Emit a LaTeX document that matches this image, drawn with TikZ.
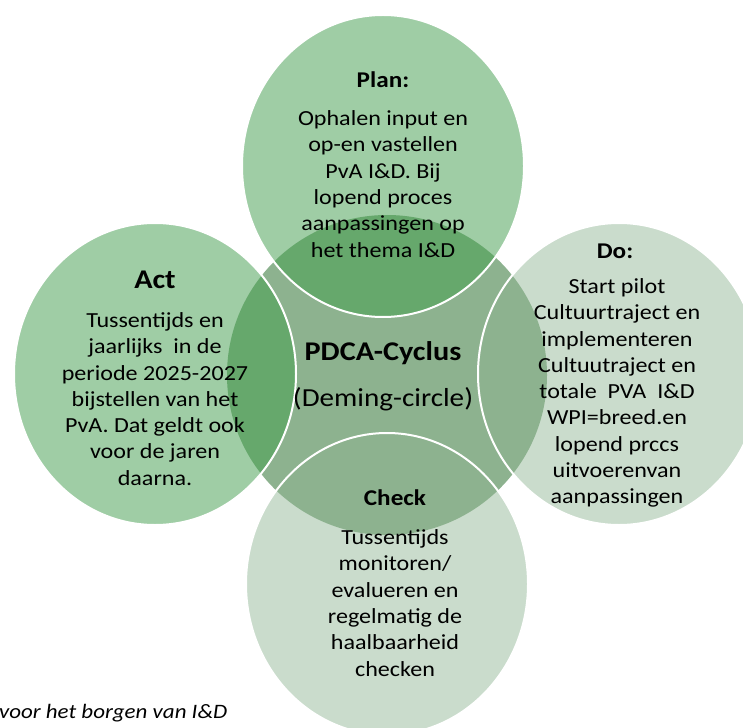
\documentclass[tikz,border=0pt]{standalone}
\usepackage{fontspec}
\setmainfont{Carlito}[FakeStretch=1.12]
\usetikzlibrary{positioning}

\definecolor{planfill}{HTML}{9FCDA5}
\definecolor{dofill}{HTML}{CADCCC}
\definecolor{corefill}{HTML}{8DB28F}
\definecolor{deepfill}{HTML}{66A86C}

\begin{document}
\begin{tikzpicture}[
  x=1pt, y=-1pt,
  body/.style={align=center, inner sep=0pt, font=\fontsize{21.5}{26.3}\selectfont},
  head/.style={inner sep=0pt, font=\fontsize{22.5}{26}\selectfont\bfseries},
  bighead/.style={inner sep=0pt, font=\fontsize{27}{32}\selectfont\bfseries},
  ring/.style={white, line width=2pt}
]
  %------------------------------------------------------------
  %  PARAMETERS
  %------------------------------------------------------------
  \def\rx{141}   % horizontal radius of a phase circle
  \def\ry{151}   % vertical radius of a phase circle
  \def\rc{160}   % radius of the core circle

  \useasboundingbox (0,0) rectangle (743,727);
  \clip (0,0) rectangle (743,727);

  %------------------------------------------------------------
  %  CENTRES
  %------------------------------------------------------------
  \coordinate (core)  at (387,375);
  \coordinate (plan)  at (383,166);
  \coordinate (do)    at (619,374);
  \coordinate (check) at (387,584);
  \coordinate (act)   at (155,374);

  %------------------------------------------------------------
  %  CORE + PHASE CIRCLES
  %------------------------------------------------------------
  \fill[corefill] (core) circle[radius=\rc];

  \foreach \c/\f/\o in {plan/planfill/deepfill, do/dofill/corefill,
                        check/dofill/corefill, act/planfill/deepfill} {
    \fill[\f] (\c) ellipse[x radius=\rx, y radius=\ry];
    \begin{scope}
      \clip (\c) ellipse[x radius=\rx, y radius=\ry];
      \fill[\o] (core) circle[radius=\rc];
    \end{scope}
    \draw[ring] (\c) ellipse[x radius=\rx, y radius=\ry];
  }

  %------------------------------------------------------------
  %  PLAN
  %------------------------------------------------------------
  \node[head] (planhead) at (383,80) {Plan:};
  \node[body] (plantext) at (383,184)
    {Ophalen input en\\op-en vastellen\\PvA I\&D. Bij\\lopend proces\\aanpassingen op\\het thema I\&D};

  %------------------------------------------------------------
  %  DO
  %------------------------------------------------------------
  \node[head] (dohead) at (615,251) {Do:};
  \node[body] (dotext) at (617,393)
    {Start pilot\\Cultuurtraject en\\implementeren\\Cultuutraject en\\totale\ \ PVA\ \ I\&D\\WPI=breed.en\\lopend prccs\\uitvoerenvan\\aanpassingen};

  %------------------------------------------------------------
  %  CHECK
  %------------------------------------------------------------
  \node[head] (checkhead) at (395,498) {Check};
  \node[body] (checktext) at (395,603)
    {Tussentijds\\monitoren/\\evalueren en\\regelmatig de\\haalbaarheid\\checken};

  %------------------------------------------------------------
  %  ACT
  %------------------------------------------------------------
  \node[bighead] (acthead) at (155,280) {Act};
  \node[body] (acttext) at (155,399)
    {Tussentijds en\\jaarlijks\ \ in de\\periode 2025-2027\\bijstellen van het\\PvA. Dat geldt ook\\voor de jaren\\daarna.};

  %------------------------------------------------------------
  %  CORE TITLE
  %------------------------------------------------------------
  \node[bighead] (corehead) at (383,353) {PDCA-Cyclus};
  \node[inner sep=0pt, font=\fontsize{26}{32}\selectfont, below=22pt of corehead] (coresub) {(Deming-circle)};

  % caption, runs into the left edge
  \node[anchor=west, inner sep=0pt, font=\fontsize{20.5}{24}\selectfont\itshape] (caption) at (-1,713)
    {voor het borgen van I\&D};
\end{tikzpicture}
\end{document}
